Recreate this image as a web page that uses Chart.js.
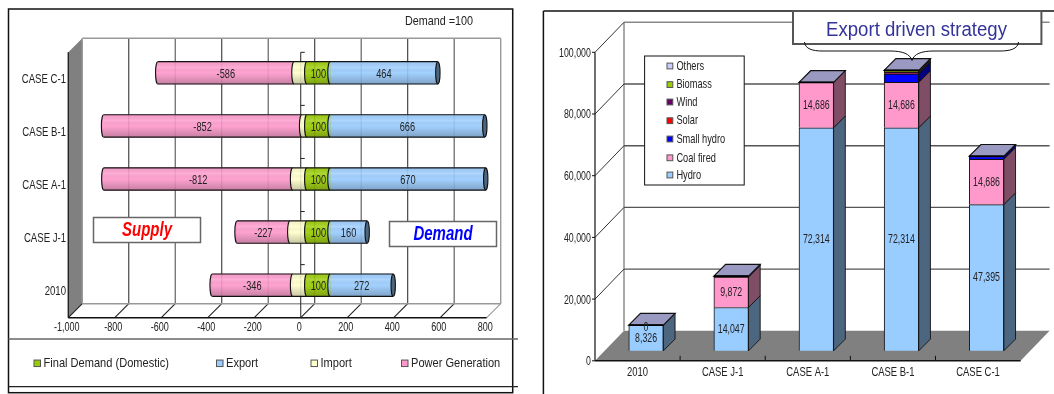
<!DOCTYPE html>
<html>
<head>
<meta charset="utf-8">
<title>Supply and demand cases</title>
<script src="https://cdn.jsdelivr.net/npm/chart.js@4"></script>
<style>
  html, body { margin: 0; padding: 0; background: #fff; overflow: hidden; }
  canvas { position: absolute; top: 0; }
  #balance { left: 0; }
  #capacity { left: 530px; }
</style>
</head>
<body>
<canvas id="balance" width="530" height="394"></canvas>
<canvas id="capacity" width="524" height="394"></canvas>
<script>
// energy balance per case (Demand = 100)
var balanceCases = ['CASE C-1', 'CASE B-1', 'CASE A-1', 'CASE J-1', '2010'];
var finalDemand = [100, 100, 100, 100, 100];
var exportShare = [464, 666, 670, 160, 272];
var importShare = [-55, -22, -61, -73, -61];
var powerGeneration = [-586, -852, -812, -227, -346];

// installed capacity per case
var capacityCases = ['2010', 'CASE J-1', 'CASE A-1', 'CASE B-1', 'CASE C-1'];
var hydro = [8326, 14047, 72314, 72314, 47395];
var coalFired = [0, 9872, 14686, 14686, 14686];
var smallHydro = [0, 300, 0, 2700, 900];
var solar = [0, 0, 0, 100, 0];
var wind = [0, 0, 0, 500, 0];
var biomass = [0, 0, 0, 400, 0];
var others = [0, 0, 0, 200, 100];

var SANS = '"Liberation Sans", Arial, sans-serif';
var INK = '#222';

function hideScaleWidth(scale) { scale.width = 0; }
function hideScaleHeight(scale) { scale.height = 0; }

// the whole figure uses a tall, narrow face, so text is squeezed horizontally
function narrowText(ctx, text, x, y, align, size, stretch, color, style) {
    ctx.save();
    ctx.translate(x, y);
    ctx.scale(stretch, 1);
    ctx.font = (style ? style + ' ' : '') + size + 'px ' + SANS;
    ctx.fillStyle = color || INK;
    ctx.textAlign = align;
    ctx.textBaseline = 'middle';
    ctx.fillText(text, 0, 0);
    ctx.restore();
}

function line(ctx, x1, y1, x2, y2, color, width) {
    ctx.strokeStyle = color;
    ctx.lineWidth = width;
    ctx.beginPath();
    ctx.moveTo(x1, y1);
    ctx.lineTo(x2, y2);
    ctx.stroke();
}

function poly(ctx, points, fill, stroke, width) {
    ctx.beginPath();
    points.forEach(function(p, i) {
        if (i === 0) ctx.moveTo(p[0], p[1]); else ctx.lineTo(p[0], p[1]);
    });
    ctx.closePath();
    if (fill) { ctx.fillStyle = fill; ctx.fill(); }
    if (stroke) { ctx.strokeStyle = stroke; ctx.lineWidth = width; ctx.stroke(); }
}

function textBox(ctx, x, y, w, h, text, color) {
    ctx.fillStyle = '#fff';
    ctx.fillRect(x, y, w, h);
    ctx.strokeStyle = '#666';
    ctx.lineWidth = 1.5;
    ctx.strokeRect(x, y, w, h);
    narrowText(ctx, text, x + w / 2, y + h / 2, 'center', 20, 0.75, color, 'italic bold');
}

function swatch(ctx, x, y, size, color) {
    ctx.fillStyle = color;
    ctx.fillRect(x, y - size / 2, size, size);
    ctx.strokeStyle = '#555';
    ctx.lineWidth = 1;
    ctx.strokeRect(x, y - size / 2, size, size);
}

// ---- left chart: cylinders on a 3D box ----
var WALL_DX = 14, WALL_DY = -14;
var BAR_DX = 6, BAR_DY = -6;
var CAP_RX = 2.2;
var balanceLegendX = [34, 216.5, 311, 401.5];

var balanceBox = {
    id: 'balanceBox',
    beforeDraw: function(chart) {
        var ctx = chart.ctx, a = chart.chartArea, xs = chart.scales.x, ys = chart.scales.y;

        // outer frame and legend separators
        ctx.strokeStyle = '#111';
        ctx.lineWidth = 1.5;
        ctx.strokeRect(8.5, 9, 504.2, 383.7);
        line(ctx, 8.5, 339, 518, 339, '#666', 1.6);
        line(ctx, 8.5, 386.7, 518, 386.7, '#222', 1.2);

        // side wall
        poly(ctx, [[a.left, a.top], [a.left + WALL_DX, a.top + WALL_DY],
            [a.left + WALL_DX, a.bottom + WALL_DY], [a.left, a.bottom]], '#808080');
        line(ctx, a.left, a.top, a.left, a.bottom, '#222', 1.4);

        // back wall and floor lines, one per value tick
        xs.ticks.forEach(function(t, i) {
            var x = xs.getPixelForValue(t.value);
            var last = i === xs.ticks.length - 1;
            var dark = i % 2 === 1 && !last;
            var back = i === 0 || last ? '#999' : (dark ? '#222' : '#777');
            line(ctx, x + WALL_DX, a.top + WALL_DY, x + WALL_DX, a.bottom + WALL_DY, back, dark ? 1 : 1.4);
            line(ctx, x, a.bottom, x + WALL_DX, a.bottom + WALL_DY, last ? '#999' : '#222', 1.1);
            narrowText(ctx, String(t.label), x - 1.5, 327.3, 'center', 13.5, 0.67);
        });
        line(ctx, a.left + WALL_DX, a.top + WALL_DY, a.right + WALL_DX, a.top + WALL_DY, '#999', 1.6);
        line(ctx, a.left + WALL_DX, a.bottom + WALL_DY, a.right + WALL_DX, a.bottom + WALL_DY, '#999', 1.6);
        line(ctx, a.left, a.bottom, a.right, a.bottom, '#111', 1.5);

        // category axis sits on zero
        var zero = xs.getPixelForValue(0);
        line(ctx, zero, a.top, zero, a.bottom, '#222', 1);
        var band = (a.bottom - a.top) / chart.data.labels.length;
        for (var i = 0; i <= chart.data.labels.length; i++) {
            line(ctx, zero, a.top + band * i, zero + 4, a.top + band * i, '#222', 1);
        }
        chart.data.labels.forEach(function(label, i) {
            narrowText(ctx, label, a.left - 2.3, ys.getPixelForTick(i), 'right', 13.5, 0.71);
        });
    },
    beforeDatasetsDraw: function(chart) {
        chart.ctx.save();
        chart.ctx.translate(BAR_DX, BAR_DY);
    },
    afterDatasetsDraw: function(chart) {
        var ctx = chart.ctx;
        var metas = chart.data.datasets.map(function(d, i) { return chart.getDatasetMeta(i); });

        chart.data.labels.forEach(function(label, row) {
            // segments left to right, so each curved edge overlaps its neighbour
            var segs = metas.map(function(m, i) {
                var el = m.data[row];
                var d = chart.data.datasets[i];
                return { left: Math.min(el.x, el.base), right: Math.max(el.x, el.base), y: el.y, h: el.height,
                    solid: d.solidColor, value: d.data[row], showValue: d.showValue };
            }).sort(function(p, q) { return p.left - q.left; });

            var first = segs[0], last = segs[segs.length - 1];
            var top = first.y - first.h / 2, ry = first.h / 2;

            // curved left edge of every segment
            segs.forEach(function(s) {
                ctx.beginPath();
                ctx.ellipse(s.left, s.y, CAP_RX, ry, 0, Math.PI / 2, Math.PI * 1.5);
                ctx.closePath();
                ctx.fillStyle = s.solid;
                ctx.fill();
            });

            // shading across the cylinder
            var shade = ctx.createLinearGradient(0, top, 0, top + first.h);
            shade.addColorStop(0, 'rgba(0,0,0,0.03)');
            shade.addColorStop(0.25, 'rgba(255,255,255,0.12)');
            shade.addColorStop(0.5, 'rgba(0,0,0,0)');
            shade.addColorStop(1, 'rgba(0,0,0,0.22)');
            ctx.fillStyle = shade;
            ctx.beginPath();
            ctx.ellipse(first.left, first.y, CAP_RX, ry, 0, Math.PI / 2, Math.PI * 1.5);
            ctx.lineTo(last.right, top);
            ctx.lineTo(last.right, top + first.h);
            ctx.closePath();
            ctx.fill();

            ctx.strokeStyle = '#111';
            ctx.lineWidth = 1.1;
            segs.forEach(function(s) {
                ctx.beginPath();
                ctx.ellipse(s.left, s.y, CAP_RX, ry, 0, Math.PI / 2, Math.PI * 1.5);
                ctx.stroke();
            });
            line(ctx, first.left, top, last.right, top, '#111', 1.2);
            line(ctx, first.left, top + first.h, last.right, top + first.h, '#111', 1.2);

            // end cap of the export segment
            ctx.beginPath();
            ctx.ellipse(last.right, last.y, CAP_RX, ry, 0, 0, Math.PI * 2);
            ctx.fillStyle = '#4d6680';
            ctx.fill();
            ctx.strokeStyle = '#111';
            ctx.lineWidth = 1.1;
            ctx.stroke();

            // value labels
            segs.forEach(function(s) {
                if (s.showValue) narrowText(ctx, String(s.value), (s.left + s.right) / 2, s.y + 1.5, 'center', 13.5, 0.685);
            });
        });
        ctx.restore();
    },
    afterDraw: function(chart) {
        var ctx = chart.ctx;

        narrowText(ctx, 'Demand =100', 439, 21, 'center', 13.5, 0.8);
        textBox(ctx, 93.5, 217.5, 107, 25, 'Supply', '#ff0000');
        textBox(ctx, 389.5, 221.5, 107, 25, 'Demand', '#0000ff');

        // legend row
        chart.data.datasets.forEach(function(d, i) {
            swatch(ctx, balanceLegendX[i], 363.3, 6.5, d.solidColor);
            narrowText(ctx, d.label, balanceLegendX[i] + 9.5, 363.3, 'left', 13.5, 0.82);
        });
    }
};

new Chart(document.getElementById('balance'), {
    type: 'bar',
    data: {
        labels: balanceCases,
        datasets: [
            { label: 'Final Demand (Domestic)', data: finalDemand, backgroundColor: 'rgba(153,204,0,0.9)', solidColor: '#99cc00', showValue: true },
            { label: 'Export', data: exportShare, backgroundColor: 'rgba(153,204,255,0.9)', solidColor: '#99ccff', showValue: true },
            { label: 'Import', data: importShare, backgroundColor: 'rgba(255,255,204,0.9)', solidColor: '#ffffcc', showValue: false },
            { label: 'Power Generation', data: powerGeneration, backgroundColor: 'rgba(255,153,204,0.9)', solidColor: '#ff99cc', showValue: true }
        ]
    },
    options: {
        indexAxis: 'y',
        responsive: false,
        animation: false,
        barThickness: 22.3,
        clip: false,
        layout: { padding: { left: 68.3, right: 43.3, top: 52.3, bottom: 76.3 } },
        plugins: { legend: { display: false }, tooltip: { enabled: false } },
        scales: {
            x: {
                stacked: true, min: -1000, max: 800,
                afterFit: hideScaleHeight,
                grid: { display: false },
                border: { display: false },
                ticks: { stepSize: 200, display: false }
            },
            y: {
                stacked: true,
                afterFit: hideScaleWidth,
                grid: { display: false },
                border: { display: false },
                ticks: { display: false }
            }
        }
    },
    plugins: [balanceBox]
});

// ---- right chart: stacked blocks on a 3D floor ----
var BOX_DX = 29, BOX_DY = -30;
var BLOCK_DX = 8.5, BLOCK_DY = -10;
var SIDE = 11.7;

var capacityBox = {
    id: 'capacityBox',
    beforeDraw: function(chart) {
        var ctx = chart.ctx, a = chart.chartArea, xs = chart.scales.x, ys = chart.scales.y;

        // panel frame, open on the right and at the bottom
        line(ctx, 13.4, 11, 13.4, 394, '#111', 1.5);
        line(ctx, 13.4, 11, 524, 11, '#111', 1.5);

        // floor
        poly(ctx, [[a.left, a.bottom], [a.left + BOX_DX, a.bottom + BOX_DY],
            [a.right + BOX_DX, a.bottom + BOX_DY], [a.right, a.bottom]], '#808080');

        line(ctx, a.left + BOX_DX, a.top + BOX_DY, a.left + BOX_DX, a.bottom + BOX_DY, '#aaa', 2);
        ys.ticks.forEach(function(t) {
            var y = ys.getPixelForValue(t.value);
            if (t.value > 0) {
                line(ctx, a.left + BOX_DX, y + BOX_DY, a.right + BOX_DX, y + BOX_DY, t.value === 100000 ? '#888' : '#555', 1.4);
                line(ctx, a.left, y, a.left + BOX_DX, y + BOX_DY, '#333', 1);
            }
            line(ctx, a.left - 3, y, a.left, y, '#111', 1);
            narrowText(ctx, String(t.label), a.left - 4.2, y + 0.7, 'right', 13.5, 0.65);
        });

        line(ctx, a.left, a.top, a.left, a.bottom, '#111', 1.2);
        line(ctx, a.left, a.bottom, a.right, a.bottom, '#111', 1.5);
        var band = (a.right - a.left) / chart.data.labels.length;
        for (var i = 1; i < chart.data.labels.length; i++) {
            line(ctx, a.left + band * i, a.bottom - 5, a.left + band * i, a.bottom, '#111', 1);
        }
        chart.data.labels.forEach(function(label, i) {
            narrowText(ctx, label, xs.getPixelForTick(i), 372, 'center', 13.5, 0.7);
        });
    },
    beforeDatasetsDraw: function(chart) {
        chart.ctx.save();
        chart.ctx.translate(BLOCK_DX, BLOCK_DY);
    },
    afterDatasetsDraw: function(chart) {
        var ctx = chart.ctx;

        chart.data.labels.forEach(function(label, col) {
            var topY = null, left = 0, right = 0;

            chart.data.datasets.forEach(function(d, i) {
                var el = chart.getDatasetMeta(i).data[col];
                if (d.data[col] <= 0) return;
                left = el.x - el.width / 2;
                right = el.x + el.width / 2;
                topY = el.y;
                poly(ctx, [[right, el.y], [right + SIDE, el.y - SIDE], [right + SIDE, el.base - SIDE], [right, el.base]],
                    d.sideColor, '#111', 0.9);
            });

            // lid of the stack
            poly(ctx, [[left, topY], [left + SIDE, topY - SIDE], [right + SIDE, topY - SIDE], [right, topY]],
                '#9999c2', '#111', 1.2);
            line(ctx, left, topY, right, topY, '#000', 1.6);

            // value labels for the two large series
            chart.data.datasets.forEach(function(d, i) {
                if (!d.showValue) return;
                var el = chart.getDatasetMeta(i).data[col];
                var y = (el.y + el.base) / 2 + (d.data[col] === 0 ? 2.5 : 0);
                narrowText(ctx, d.data[col].toLocaleString('en-US'), el.x, y, 'center', 13.5, 0.65);
            });
        });
        ctx.restore();
    },
    afterDraw: function(chart) {
        var ctx = chart.ctx;

        // legend block
        ctx.fillStyle = '#fff';
        ctx.fillRect(114.6, 56, 99.6, 129);
        ctx.strokeStyle = '#111';
        ctx.lineWidth = 1;
        ctx.strokeRect(114.6, 56, 99.6, 129);
        var itemY = [175, 157.8, 139, 120.7, 102, 84.6, 66];
        chart.data.datasets.forEach(function(d, i) {
            swatch(ctx, 137, itemY[i], 5.8, d.backgroundColor);
            narrowText(ctx, d.label, 146.4, itemY[i], 'left', 13.5, 0.685);
        });

        // callout with its brace
        ctx.fillStyle = '#fff';
        ctx.fillRect(263, 11, 248.4, 33);
        ctx.strokeStyle = '#555';
        ctx.lineWidth = 2;
        ctx.strokeRect(263, 11, 248.4, 33);
        narrowText(ctx, 'Export driven strategy', 386.5, 30, 'center', 20, 0.93, '#333399');

        ctx.strokeStyle = '#111';
        ctx.lineWidth = 1;
        ctx.beginPath();
        ctx.moveTo(274.5, 42);
        ctx.bezierCurveTo(275, 49, 283, 51, 292, 51);
        ctx.lineTo(360, 51);
        ctx.bezierCurveTo(373, 51, 380, 54, 382, 60.5);
        ctx.bezierCurveTo(384, 54, 391, 51, 404, 51);
        ctx.lineTo(470, 51);
        ctx.bezierCurveTo(480, 51, 488, 49, 488.5, 42);
        ctx.stroke();
    }
};

new Chart(document.getElementById('capacity'), {
    type: 'bar',
    data: {
        labels: capacityCases,
        datasets: [
            { label: 'Hydro', data: hydro, backgroundColor: '#99ccff', sideColor: '#4d6680', showValue: true, borderColor: '#111', borderWidth: 1 },
            { label: 'Coal fired', data: coalFired, backgroundColor: '#ff99cc', sideColor: '#804d66', showValue: true, borderColor: '#111', borderWidth: 1 },
            { label: 'Small hydro', data: smallHydro, backgroundColor: '#0000ff', sideColor: '#000080', borderColor: '#111', borderWidth: 1 },
            { label: 'Solar', data: solar, backgroundColor: '#ff0000', sideColor: '#800000', borderColor: '#111', borderWidth: 1 },
            { label: 'Wind', data: wind, backgroundColor: '#660066', sideColor: '#330033', borderColor: '#111', borderWidth: 1 },
            { label: 'Biomass', data: biomass, backgroundColor: '#99cc00', sideColor: '#4d6600', borderColor: '#111', borderWidth: 1 },
            { label: 'Others', data: others, backgroundColor: '#ccccff', sideColor: '#666680', borderColor: '#111', borderWidth: 1 }
        ]
    },
    options: {
        responsive: false,
        animation: false,
        barThickness: 34.6,
        clip: false,
        layout: { padding: { left: 65, right: 33.4, top: 52.3, bottom: 33.2 } },
        plugins: { legend: { display: false }, tooltip: { enabled: false } },
        scales: {
            x: {
                stacked: true,
                afterFit: hideScaleHeight,
                grid: { display: false },
                border: { display: false },
                ticks: { display: false }
            },
            y: {
                stacked: true, min: 0, max: 100000,
                afterFit: hideScaleWidth,
                grid: { display: false },
                border: { display: false },
                ticks: { stepSize: 20000, display: false }
            }
        }
    },
    plugins: [capacityBox]
});
</script>
</body>
</html>
